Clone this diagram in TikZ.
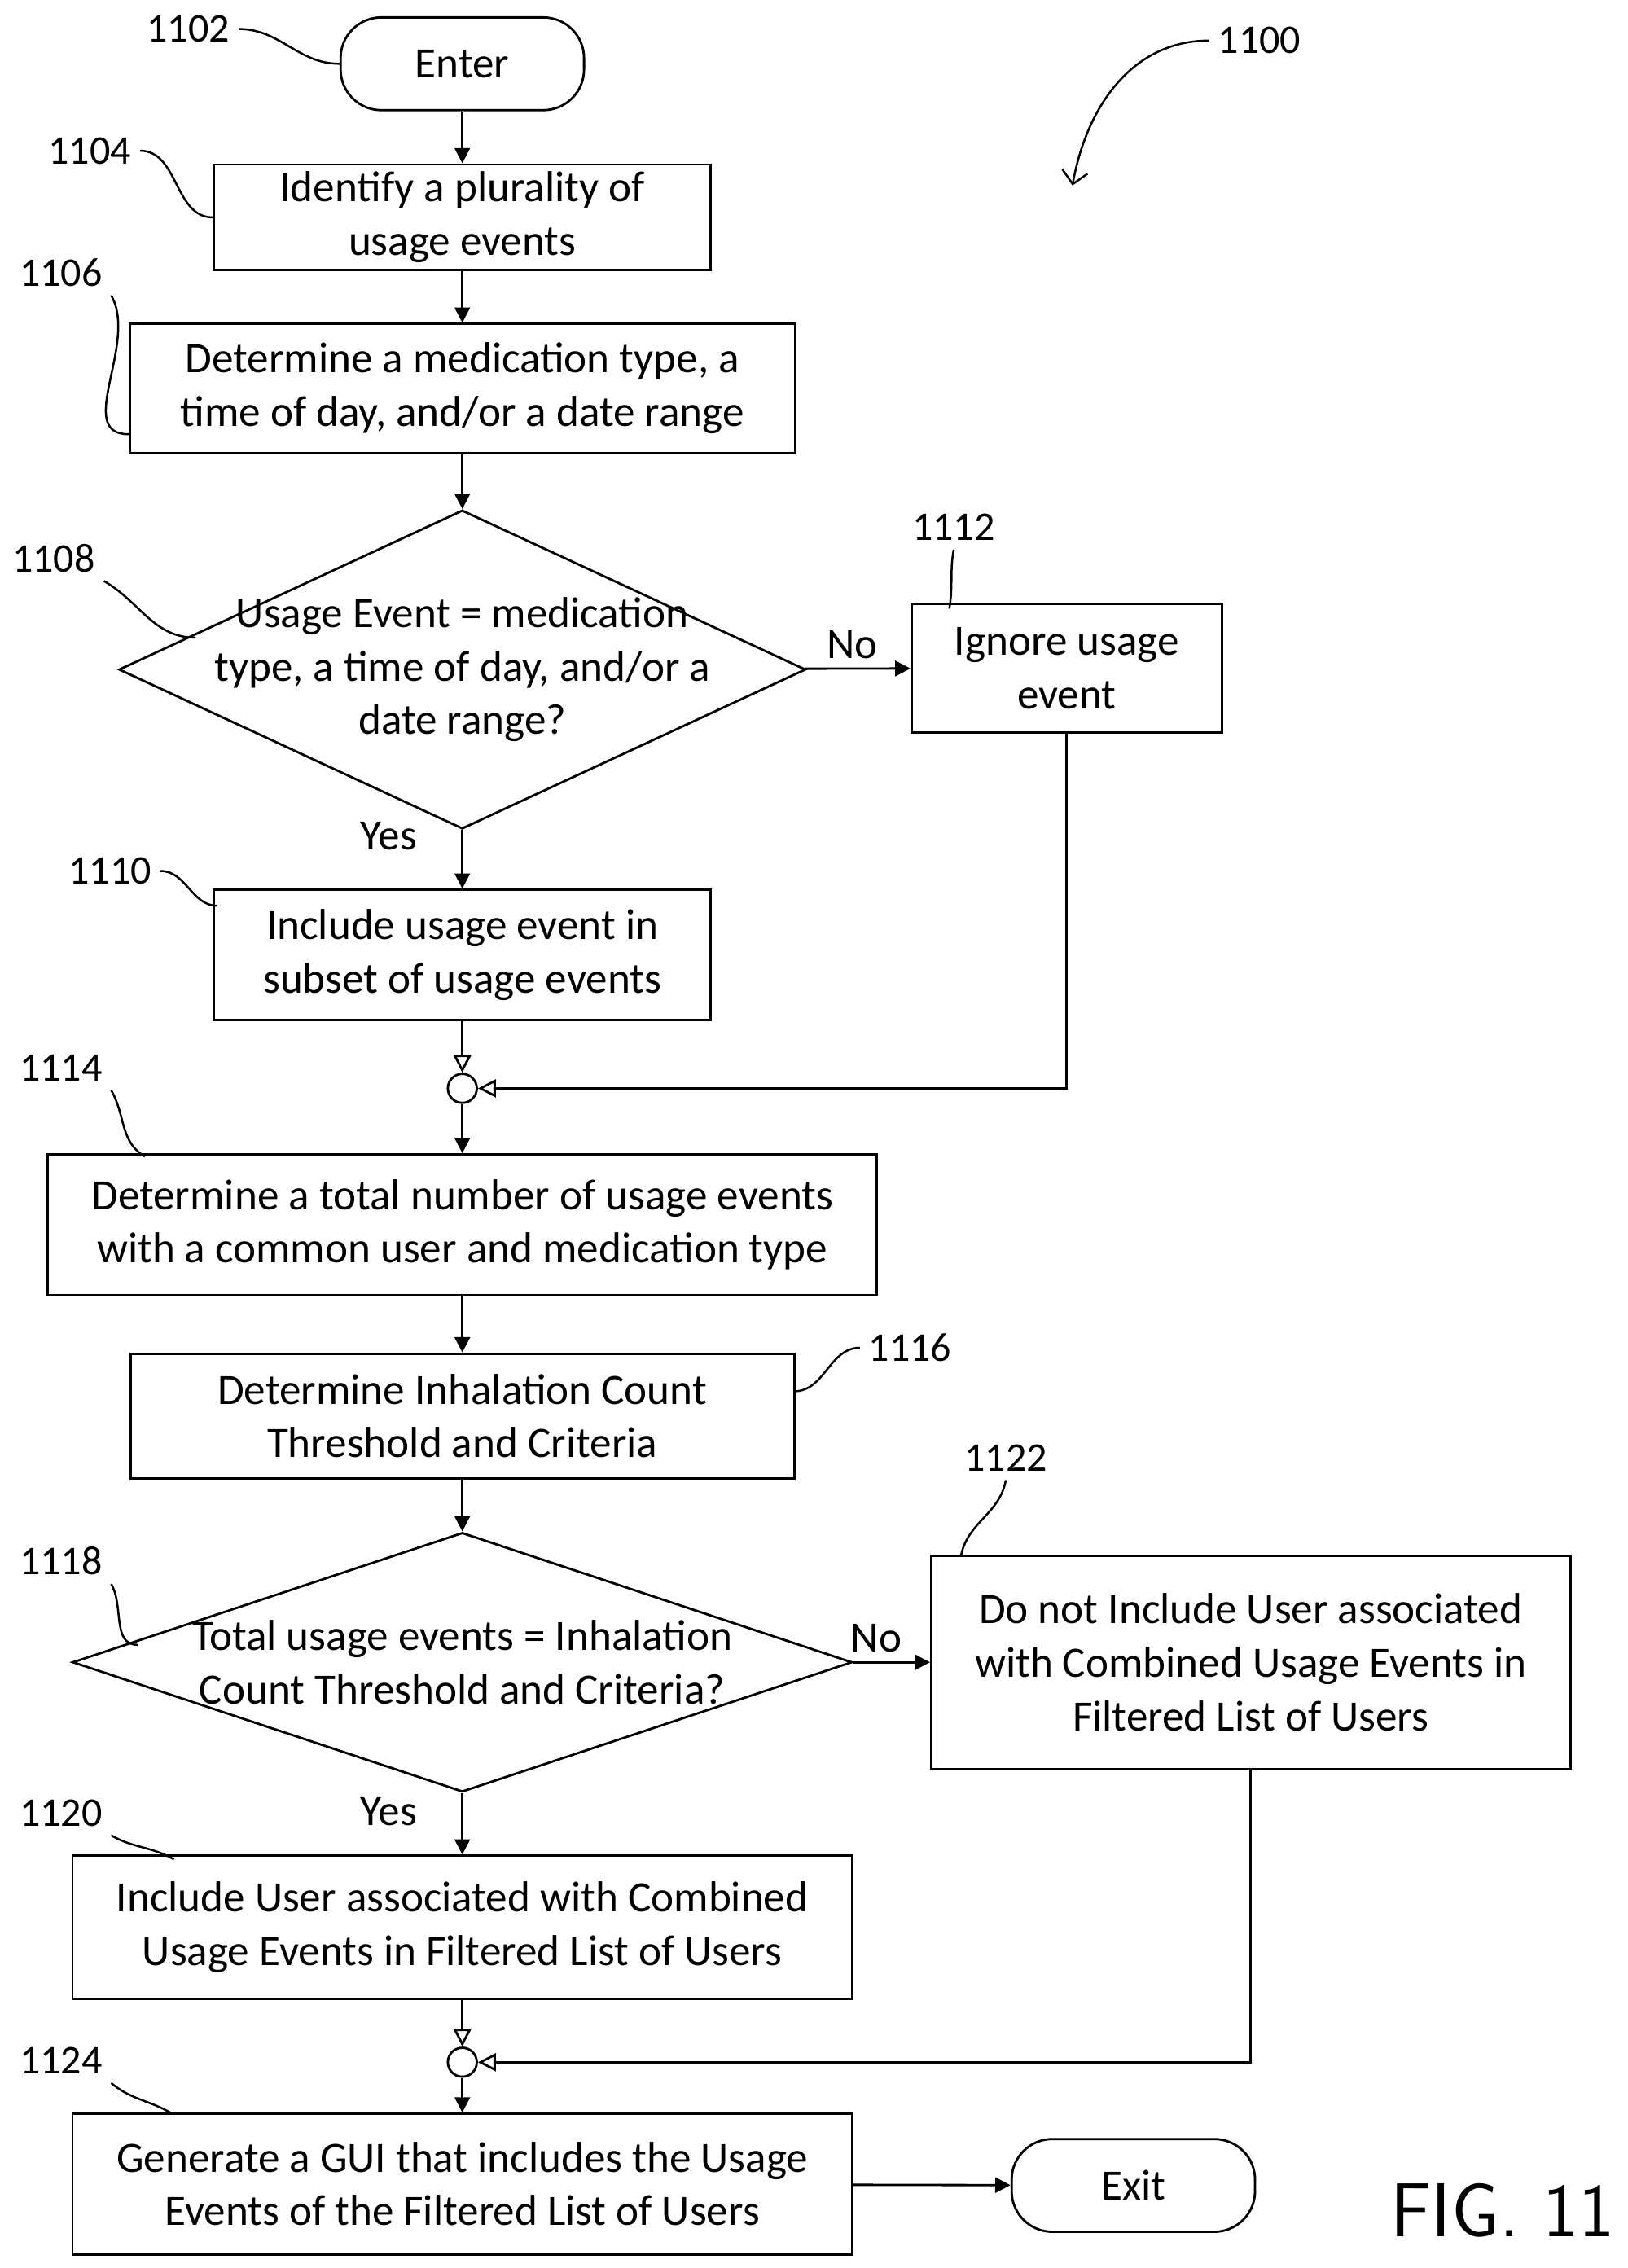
\documentclass[tikz,border=0pt]{standalone}
\usepackage{fontspec}
\setmainfont{Carlito}
\usetikzlibrary{shapes.geometric,arrows.meta,positioning}

\tikzset{
    box/.style={draw, line width=0.9pt, align=center, inner sep=0pt},
    term/.style={draw, line width=0.9pt, rounded corners=16pt, minimum width=3.36cm, minimum height=1.28cm},
    dec/.style={draw, line width=0.9pt, diamond, inner sep=-16pt, align=center},
    junc/.style={draw, line width=0.9pt, circle, minimum size=0.4cm, inner sep=0pt},
    flow/.style={line width=0.9pt, -{Triangle[length=6pt,width=6pt]}},
    merge/.style={line width=0.9pt, -{Triangle[open,length=7pt,width=7pt]}},
    lead/.style={line width=0.8pt},
    ref/.style={font=\fontsize{16}{19}\selectfont}
}

\begin{document}
\begin{tikzpicture}[x=0.02cm, y=-0.02cm, font=\fontsize{17}{21}\selectfont]
    \useasboundingbox (0,0) rectangle (1123,1565);

    % main column
    \node[term] (enter) at (319,44) {Enter};
    \node[box, minimum width=6.86cm, minimum height=1.46cm] (ident) at (319,150) {Identify a plurality of\\usage events};
    \node[box, minimum width=9.18cm, minimum height=1.78cm] (type) at (319,268) {Determine a medication type, a\\time of day, and/or a date range};
    \node[dec, aspect=2.15, minimum width=9.48cm, minimum height=4.4cm] (match) at (319,462) {Usage Event = medication\\type, a time of day, and/or a\\date range?};
    \node[box, minimum width=4.28cm, minimum height=1.78cm] (ignore) at (736,461) {Ignore usage\\event};
    \node[box, minimum width=6.86cm, minimum height=1.8cm] (subset) at (319,659) {Include usage event in\\subset of usage events};
    \node[junc] (j1) at (319,751) {};
    \node[box, minimum width=11.44cm, minimum height=1.94cm] (total) at (319,845) {Determine a total number of usage events\\with a common user and medication type};
    \node[box, minimum width=9.16cm, minimum height=1.72cm] (thresh) at (319,977) {Determine Inhalation Count\\Threshold and Criteria};
    \node[dec, aspect=3.0, minimum width=10.76cm, minimum height=3.58cm] (check) at (319,1147) {Total usage events = Inhalation\\Count Threshold and Criteria?};
    \node[box, minimum width=8.82cm, minimum height=2.94cm] (exclude) at (863,1147) {Do not Include User associated\\with Combined Usage Events in\\Filtered List of Users};
    \node[box, minimum width=10.76cm, minimum height=1.98cm] (include) at (319,1330) {Include User associated with Combined\\Usage Events in Filtered List of Users};
    \node[junc] (j2) at (319,1423) {};
    \node[box, minimum width=10.76cm, minimum height=1.94cm] (gui) at (319,1507) {Generate a GUI that includes the Usage\\Events of the Filtered List of Users};
    \node[term] (exit) at (782,1508) {Exit};

    % connectors
    \draw[flow] (enter) -- (ident);
    \draw[flow] (ident) -- (type);
    \draw[flow] (type) -- (match);
    \draw[flow] (match) -- node[pos=0.45, above] {No} (ignore);
    \draw[flow] (match) -- node[pos=0.1, left=14pt] {Yes} (subset);
    \draw[merge] (subset) -- (j1);
    \draw[merge] (ignore.south) |- (j1);
    \draw[flow] (j1) -- (total);
    \draw[flow] (total) -- (thresh);
    \draw[flow] (thresh) -- (check);
    \draw[flow] (check) -- node[pos=0.3, above] {No} (exclude);
    \draw[flow] (check) -- node[pos=0.3, left=14pt] {Yes} (include);
    \draw[merge] (include) -- (j2);
    \draw[merge] (exclude.south) |- (j2);
    \draw[flow] (j2) -- (gui);
    \draw[flow] (gui) -- (exit);

    % reference numerals
    \node[ref] (r1100) at (869,28) {1100};
    \node[ref] (r1102) at (130,20) {1102};
    \node[ref] (r1104) at (62,104) {1104};
    \node[ref] (r1106) at (42,188) {1106};
    \node[ref] (r1108) at (37,385) {1108};
    \node[ref] (r1112) at (658,364) {1112};
    \node[ref] (r1110) at (76,601) {1110};
    \node[ref] (r1114) at (42,737) {1114};
    \node[ref] (r1116) at (628,930) {1116};
    \node[ref] (r1118) at (42,1077) {1118};
    \node[ref] (r1122) at (694,1006) {1122};
    \node[ref] (r1120) at (42,1251) {1120};
    \node[ref] (r1124) at (42,1422) {1124};
    \coordinate (p1100) at (740,128);

    \draw[lead, -{Straight Barb[length=5pt]}] (r1100.west) to[out=180, in=80] (p1100);
    \draw[lead] (r1102.east) to[out=0, in=180] (enter.west);
    \draw[lead] (r1104.east) to[out=0, in=180] (ident.west);
    \draw[lead] (r1106.south east) to[out=-60, in=180] ([yshift=-18]type.west);
    \draw[lead] (r1108.south east) to[out=-30, in=180] (135,440);
    \draw[lead] (r1112.south) to[out=-100, in=80] (655,420);
    \draw[lead] (r1110.east) to[out=0, in=180] (150,625);
    \draw[lead] (r1114.south east) to[out=-60, in=150] (100,798);
    \draw[lead] (r1116.west) to[out=180, in=0] (548,960);
    \draw[lead] (r1118.south east) to[out=-60, in=180] (95,1135);
    \draw[lead] (r1122.south) to[out=-100, in=80] (663,1074);
    \draw[lead] (r1120.south east) to[out=-30, in=150] (120,1283);
    \draw[lead] (r1124.south east) to[out=-40, in=150] (118,1458);

    \node[font=\fontsize{30}{34}\selectfont\sffamily] (fig) at (1037,1525) {FIG. 11};
\end{tikzpicture}
\end{document}
